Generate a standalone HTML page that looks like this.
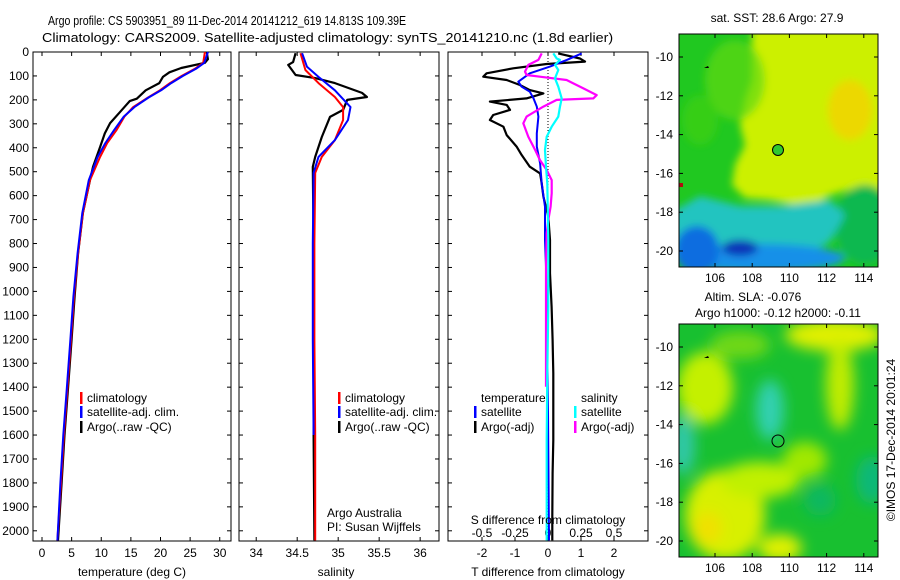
<!DOCTYPE html>
<html><head><meta charset="utf-8"><style>
body{margin:0;background:#fff;}
svg{display:block;font-family:"Liberation Sans",sans-serif;}
text{font-size:12px;fill:#000;}
</style></head><body>
<svg id="fig" width="900" height="580" viewBox="0 0 900 580" xmlns="http://www.w3.org/2000/svg">
<defs>
<clipPath id="mapclip1"><rect x="679" y="34" width="199" height="233"/></clipPath>
<clipPath id="mapclip2"><rect x="679" y="324" width="199" height="233"/></clipPath>
<filter id="blur4" x="-50%" y="-50%" width="200%" height="200%"><feGaussianBlur stdDeviation="4"/></filter>
<filter id="blur7" x="-50%" y="-50%" width="200%" height="200%"><feGaussianBlur stdDeviation="7"/></filter>
</defs>
<text transform="translate(48,25) scale(0.815,1)" style="font-size:13px">Argo profile: CS 5903951_89 11-Dec-2014 20141212_619 14.813S 109.39E</text>
<text transform="translate(42,42) scale(1.1,1)" style="font-size:13px">Climatology: CARS2009. Satellite-adjusted climatology: synTS_20141210.nc (1.8d earlier)</text>

<g id="p1"></g>
<g id="p2"></g>
<g id="p3"></g>

<!-- SST map -->
<text x="777" y="22" text-anchor="middle">sat. SST: 28.6 Argo: 27.9</text>
<g clip-path="url(#mapclip1)">
<rect x="679" y="34" width="199" height="233" fill="#20c820"/>
<g filter="url(#blur4)">
<polygon points="752,28 890,28 890,192 855,188 830,195 810,208 790,204 770,200 745,198 732,185 735,165 745,145 740,125 745,100 752,80" fill="#ccf000"/>
<ellipse cx="735" cy="80" rx="30" ry="40" fill="#60d810" opacity="0.7"/>
<ellipse cx="850" cy="110" rx="22" ry="30" fill="#ecd800"/>
<ellipse cx="700" cy="120" rx="18" ry="25" fill="#40d010" opacity="0.7"/>
<ellipse cx="865" cy="225" rx="30" ry="40" fill="#10b850"/>
<polygon points="672,212 700,196 740,206 780,206 830,200 845,215 830,242 800,258 672,258" fill="#20c4c0"/>
<ellipse cx="760" cy="258" rx="85" ry="14" fill="#1890e8"/>
<ellipse cx="697" cy="250" rx="22" ry="24" fill="#0a6de0"/>
<ellipse cx="740" cy="248" rx="18" ry="8" fill="#0830b8"/>
</g>
<rect x="679" y="183" width="4" height="4" fill="#b01010"/>
<path d="M704,68 l4,-2 l1,2z" fill="#000"/>
<circle cx="778" cy="150" r="5.5" fill="#30c830" stroke="#000" stroke-width="1"/>
</g>
<g id="map1axes"></g>

<!-- SLA map -->
<text x="753" y="301" text-anchor="middle">Altim. SLA: -0.076</text>
<text x="778" y="317" text-anchor="middle">Argo h1000: -0.12 h2000: -0.11</text>
<g clip-path="url(#mapclip2)">
<rect x="679" y="324" width="199" height="233" fill="#18c030"/>
<g filter="url(#blur7)">
<ellipse cx="705" cy="388" rx="28" ry="36" fill="#c4f000"/>
<ellipse cx="740" cy="345" rx="30" ry="14" fill="#70d818"/>
<ellipse cx="835" cy="335" rx="50" ry="16" fill="#e0f000"/>
<ellipse cx="840" cy="385" rx="14" ry="45" fill="#c0ec00"/>
<ellipse cx="725" cy="515" rx="40" ry="45" fill="#d8f000"/>
<ellipse cx="760" cy="480" rx="40" ry="18" fill="#c0f000"/>
<ellipse cx="708" cy="528" rx="14" ry="16" fill="#f0e000"/>
<ellipse cx="780" cy="548" rx="22" ry="14" fill="#e0f000"/>
<ellipse cx="805" cy="460" rx="22" ry="18" fill="#a0e800"/>
<ellipse cx="770" cy="410" rx="14" ry="30" fill="#30d0b0"/>
<ellipse cx="683" cy="445" rx="12" ry="30" fill="#30c8a8"/>
<ellipse cx="872" cy="480" rx="16" ry="24" fill="#10b878"/>
<ellipse cx="820" cy="500" rx="16" ry="16" fill="#10b860"/>
</g>
<path d="M704,358 l4,-2 l1,2z" fill="#000"/>
<circle cx="778" cy="441" r="6" fill="none" stroke="#000" stroke-width="1"/>
</g>
<g id="map2axes"></g>
<text transform="translate(895,440) rotate(-90)" text-anchor="middle">©IMOS 17-Dec-2014 20:01:24</text>
</svg>
<script>
// ---- data ----
const depthTicks = [0,100,200,300,400,500,600,700,800,900,1000,1100,1200,1300,1400,1500,1600,1700,1800,1900,2000];
const tempTicks = [0,5,10,15,20,25,30];
const salTicks = [34,34.5,35,35.5,36];
const salTickLabels = ["34","34.5","35","35.5","36"];
const tdiffTicks = [-2,-1,0,1,2];
const sdiffTicks = [-0.5,-0.25,0,0.25,0.5];
const sdiffTickLabels = ["-0.5","-0.25","0","0.25","0.5"];

const tClimDepth = [0,45,70,100,130,160,190,230,270,325,380,438,535,672,840,1022,1200,1400,1600,1800,2040];
const tClimValue = [27.5,27.2,25.8,23.6,21.6,19.9,17.9,15.4,13.9,12.6,11.0,9.8,8.1,6.9,6.1,5.4,4.9,4.3,3.7,3.2,2.6];
const tSatDepth = [0,45,70,100,130,160,190,230,270,325,380,438,535,672,840,1022,1200,1400,1600,1800,2040];
const tSatValue = [28.0,27.4,26.0,23.8,21.8,20.1,18.0,15.6,13.8,12.2,10.7,9.4,7.9,6.8,6.0,5.3,4.8,4.2,3.6,3.1,2.6];
const tArgoDepth = [0,30,45,67,85,104,130,160,195,205,250,297,340,397,480,535,672,840,1022,1200,1400,1600,1800,2040];
const tArgoValue = [27.8,28.0,27.5,23.5,21.5,20.4,19.8,17.5,16.0,14.8,13.2,11.5,10.6,9.8,8.6,8.1,6.9,6.1,5.5,5.0,4.4,3.8,3.3,2.7];

const sClimDepth = [5,75,130,188,230,284,368,438,505,800,1200,1600,2040];
const sClimValue = [34.54,34.60,34.76,34.96,35.06,35.06,34.96,34.80,34.72,34.71,34.71,34.72,34.72];
const sSatDepth = [5,62,104,160,230,284,368,438,505,800,1200,1600,2040];
const sSatValue = [34.56,34.62,34.76,34.96,35.15,35.12,34.96,34.76,34.70,34.69,34.69,34.70,34.71];
const sArgoDepth = [5,42,54,96,109,130,171,188,200,242,271,355,438,480,800,1200,1600,2040];
const sArgoValue = [34.48,34.45,34.39,34.48,34.72,34.96,35.29,35.35,35.11,35.06,34.90,34.80,34.72,34.69,34.70,34.70,34.70,34.71];

const dTArgoDepth = [6,27,40,50,68,89,103,117,138,159,173,194,207,221,242,263,284,312,347,395,430,479,507,549,604,688,785,924,1064,1203,1342,1482,1621,1760,1941,2040];
const dTArgoValue = [0.31,0.97,1.12,-0.04,-1.05,-1.86,-1.96,-1.25,-0.85,-0.55,-0.14,-0.65,-1.76,-1.25,-1.15,-1.66,-1.76,-1.35,-1.25,-0.95,-0.80,-0.55,-0.24,-0.19,-0.14,0.01,0.06,0.06,0.11,0.14,0.16,0.16,0.16,0.14,0.13,0.13];
const dTSatDepth = [6,33,61,89,124,145,166,194,228,270,340,395,465,549,646,785,897,1064,1500,2040];
const dTSatValue = [1.02,0.57,0.06,-0.55,-0.90,-0.80,-0.55,-0.44,-0.34,-0.29,-0.34,-0.34,-0.24,-0.19,-0.09,-0.09,-0.06,-0.04,0.0,0.03];
const dSSatDepth = [6,27,33,54,75,110,145,194,228,270,312,354,409,479,549,785,1064,1342,1621,1941,2040];
const dSSatValue = [0.040,0.066,0.091,0.053,0.078,0.053,0.078,0.104,0.091,0.078,0.028,-0.010,-0.023,-0.015,-0.005,0.002,0.002,-0.005,-0.010,-0.010,-0.010];
const dSArgoDepth = [6,33,54,82,96,103,117,131,152,180,194,200,228,270,298,354,409,451,493,535,590,646,702,757,897,1064,1342,1398];
const dSArgoValue = [-0.048,-0.073,-0.149,-0.174,-0.162,-0.061,0.141,0.192,0.268,0.369,0.343,0.066,-0.035,-0.162,-0.187,-0.149,-0.098,-0.061,-0.010,0.028,0.028,0.020,0.002,-0.010,-0.015,-0.015,-0.015,-0.015];

const lonTicks = [106,108,110,112,114];
const latTicks = [-10,-12,-14,-16,-18,-20];

// ---- helpers ----
const NS = "http://www.w3.org/2000/svg";
function mk(parent, tag, attrs, txt){
  const e = document.createElementNS(NS, tag);
  for (const k in attrs) e.setAttribute(k, attrs[k]);
  if (txt !== undefined) e.textContent = txt;
  parent.appendChild(e);
  return e;
}
const top0 = 52, bot0 = 541;
const yDepth = d => top0 + d * 0.2394;

function panel(g, x0, x1, xmin, xmax){
  const sx = v => x0 + (v - xmin) / (xmax - xmin) * (x1 - x0);
  const r = mk(g, "rect", {x:x0, y:top0, width:x1-x0, height:bot0-top0, fill:"none", stroke:"#000", "stroke-width":1});
  
  
  depthTicks.forEach(d => {
    const y = yDepth(d);
    mk(g, "line", {x1:x0, x2:x0+4, y1:y, y2:y, stroke:"#000"});
    mk(g, "line", {x1:x1-4, x2:x1, y1:y, y2:y, stroke:"#000"});
  });
  return sx;
}
function xTicks(g, sx, vals, labels, yLabel){
  vals.forEach((v,i) => {
    const x = sx(v);
    mk(g, "line", {x1:x, x2:x, y1:bot0, y2:bot0-4, stroke:"#000"});
    mk(g, "line", {x1:x, x2:x, y1:top0, y2:top0+4, stroke:"#000"});
    const t = mk(g, "text", {x:x, y:yLabel, "text-anchor":"middle"}, labels ? labels[i] : String(v));
    
    
  });
}
function line(g, sx, depths, vals, color, w, name){
  const pts = depths.map((d,i) => sx(vals[i]).toFixed(1) + "," + yDepth(d).toFixed(1)).join(" ");
  const p = mk(g, "polyline", {points:pts, fill:"none", stroke:color, "stroke-width":w, "stroke-linejoin":"round"});
  
  
}
function legendEntry(g, x, y, color, label){
  if (color) mk(g, "rect", {x:x, y:y-10, width:2.5, height:12, fill:color});
  const t = mk(g, "text", {x:x+7, y:y}, label);
  
  
}

// ---- panel 1 ----
const g1 = document.getElementById("p1");
const sx1 = panel(g1, 33, 231, -1.52, 31.9);
depthTicks.forEach(d => {
  const t = mk(g1, "text", {x:29, y:yDepth(d)+4, "text-anchor":"end"}, String(d));
  
  
});
xTicks(g1, sx1, tempTicks, null, 557);
line(g1, sx1, tArgoDepth, tArgoValue, "#000", 2.2, "temp-argo-line");
line(g1, sx1, tClimDepth, tClimValue, "#f00", 2, "temp-climatology-line");
line(g1, sx1, tSatDepth, tSatValue, "#00f", 2, "temp-satellite-line");
legendEntry(g1, 80, 402, "#f00", "climatology");
legendEntry(g1, 80, 416, "#00f", "satellite-adj. clim.");
legendEntry(g1, 80, 431, "#000", "Argo(..raw -QC)");
const xt1 = mk(g1, "text", {x:132, y:576, "text-anchor":"middle"}, "temperature (deg C)");



// ---- panel 2 ----
const g2 = document.getElementById("p2");
const sx2 = panel(g2, 239, 439, 33.79, 36.23);
xTicks(g2, sx2, salTicks, salTickLabels, 557);
line(g2, sx2, sArgoDepth, sArgoValue, "#000", 2.2, "sal-argo-line");
line(g2, sx2, sClimDepth, sClimValue, "#f00", 2, "sal-climatology-line");
line(g2, sx2, sSatDepth.slice(0, sSatDepth.length-1), sSatValue.slice(0, sSatValue.length-1), "#00f", 2, "sal-satellite-line");
legendEntry(g2, 338, 402, "#f00", "climatology");
legendEntry(g2, 338, 416, "#00f", "satellite-adj. clim.");
legendEntry(g2, 338, 431, "#000", "Argo(..raw -QC)");
const a1 = mk(g2, "text", {x:327, y:517}, "Argo Australia");


const a2 = mk(g2, "text", {x:327, y:531}, "PI: Susan Wijffels");


const xt2 = mk(g2, "text", {x:336, y:576, "text-anchor":"middle"}, "salinity");



// ---- panel 3 ----
const g3 = document.getElementById("p3");
const sxT = panel(g3, 448, 648, -3.03, 3.03);
const sxS = v => sxT(v * 4);
mk(g3, "line", {x1:sxT(0), x2:sxT(0), y1:top0, y2:bot0, stroke:"#000", "stroke-dasharray":"1,2"});
xTicks(g3, sxT, tdiffTicks, null, 557);
sdiffTicks.forEach((v,i) => {
  const t = mk(g3, "text", {x:sxS(v), y:537, "text-anchor":"middle"}, sdiffTickLabels[i]);
  
  
});
line(g3, sxT, dTArgoDepth, dTArgoValue, "#000", 2.2, "tdiff-argo-line");
line(g3, sxT, dTSatDepth, dTSatValue, "#00f", 2, "tdiff-satellite-line");
line(g3, sxS, dSArgoDepth, dSArgoValue, "#f0f", 2.2, "sdiff-argo-line");
line(g3, sxS, dSSatDepth, dSSatValue, "#0ff", 2.2, "sdiff-satellite-line");
legendEntry(g3, 474, 402, null, "temperature");
legendEntry(g3, 474, 416, "#00f", "satellite");
legendEntry(g3, 474, 431, "#000", "Argo(-adj)");
legendEntry(g3, 574, 402, null, "salinity");
legendEntry(g3, 574, 416, "#0ff", "satellite");
legendEntry(g3, 574, 431, "#f0f", "Argo(-adj)");
const sdt = mk(g3, "text", {x:548, y:524, "text-anchor":"middle"}, "S difference from climatology");


const xt3 = mk(g3, "text", {x:548, y:576, "text-anchor":"middle"}, "T difference from climatology");



// ---- map axes ----
function mapAxes(g, y0){
  const x0 = 679, x1 = 878, y1 = y0 + 233;
  const lon = v => 715 + (v - 106) * 18.6;
  const lat = v => y0 + 23 + (-10 - v) * 19.4;
  mk(g, "rect", {x:x0, y:y0, width:x1-x0, height:y1-y0, fill:"none", stroke:"#000"});
  lonTicks.forEach(v => {
    const x = lon(v);
    mk(g, "line", {x1:x, x2:x, y1:y0, y2:y0+4, stroke:"#000"});
    mk(g, "line", {x1:x, x2:x, y1:y1, y2:y1-4, stroke:"#000"});
    const t = mk(g, "text", {x:x, y:y1+15, "text-anchor":"middle"}, String(v));
    
    
  });
  latTicks.forEach(v => {
    const y = lat(v);
    mk(g, "line", {x1:x0, x2:x0+4, y1:y, y2:y, stroke:"#000"});
    mk(g, "line", {x1:x1-4, x2:x1, y1:y, y2:y, stroke:"#000"});
    const t = mk(g, "text", {x:673, y:y+4, "text-anchor":"end"}, String(v));
    
    
  });
}
mapAxes(document.getElementById("map1axes"), 34);
mapAxes(document.getElementById("map2axes"), 324);
</script>
</body></html>
